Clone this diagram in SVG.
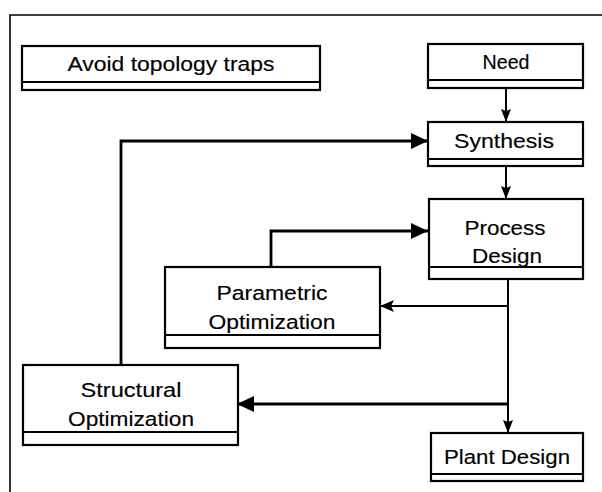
<svg xmlns="http://www.w3.org/2000/svg" width="602" height="492" viewBox="0 0 602 492">
  <defs>
    <marker id="big" markerUnits="userSpaceOnUse" markerWidth="18" markerHeight="18" refX="17" refY="8" orient="auto">
      <path d="M0,0 L17,8 L0,16 z" fill="#000"/>
    </marker>
    <marker id="mid" markerUnits="userSpaceOnUse" markerWidth="16" markerHeight="14" refX="14" refY="6" orient="auto">
      <path d="M0,0 L14,6 L0,12 L3,6 z" fill="#000"/>
    </marker>
    <marker id="small" markerUnits="userSpaceOnUse" markerWidth="14" markerHeight="12" refX="13" refY="5" orient="auto">
      <path d="M0,0 L13,5 L0,10 L2,5 z" fill="#000"/>
    </marker>
  </defs>
  <style>
    rect.box { fill: #fff; stroke: #000; stroke-width: 2.2; }
    line.sep { stroke: #000; stroke-width: 1.8; }
    text { font-family: "Liberation Sans", Arial, sans-serif; font-size: 20.5px; fill: #000; stroke: #000; stroke-width: 0.15; text-anchor: middle; }
    .thick { fill: none; stroke: #000; stroke-width: 2.8; }
    .thin { fill: none; stroke: #000; stroke-width: 2; }
  </style>
  <rect width="602" height="492" fill="#fff"/>
  <path d="M10,492 V15 H602" fill="none" stroke="#000" stroke-width="1.6"/>

  <g id="connectors">
    <path class="thin" d="M506,88 V122" marker-end="url(#small)"/>
    <path class="thin" d="M506,166 V199" marker-end="url(#small)"/>
    <path class="thick" d="M121,365 V141 H428" marker-end="url(#big)"/>
    <path class="thick" d="M271,267 V231 H428" marker-end="url(#big)"/>
    <path class="thin" d="M508,279 V433" marker-end="url(#small)"/>
    <path class="thin" d="M508,306 H380" marker-end="url(#mid)"/>
    <path class="thick" d="M508,404 H237" marker-end="url(#big)"/>
  </g>

  <g id="avoid">
    <rect class="box" x="22" y="46" width="298" height="44"/>
    <line class="sep" x1="22" y1="82" x2="320" y2="82"/>
    <text x="171" y="71" textLength="207" lengthAdjust="spacingAndGlyphs">Avoid topology traps</text>
  </g>
  <g id="need">
    <rect class="box" x="428" y="44" width="155" height="44"/>
    <line class="sep" x1="428" y1="80" x2="583" y2="80"/>
    <text x="506" y="69" textLength="47" lengthAdjust="spacingAndGlyphs">Need</text>
  </g>
  <g id="synthesis">
    <rect class="box" x="428" y="122" width="155" height="44"/>
    <line class="sep" x1="428" y1="159" x2="583" y2="159"/>
    <text x="504" y="148" textLength="100" lengthAdjust="spacingAndGlyphs">Synthesis</text>
  </g>
  <g id="process">
    <rect class="box" x="429" y="199" width="154" height="80"/>
    <line class="sep" x1="429" y1="267" x2="583" y2="267"/>
    <text x="505" y="235" textLength="81" lengthAdjust="spacingAndGlyphs">Process</text>
    <text x="507" y="263" textLength="70" lengthAdjust="spacingAndGlyphs">Design</text>
  </g>
  <g id="parametric">
    <rect class="box" x="165" y="267" width="215" height="81"/>
    <line class="sep" x1="165" y1="335" x2="380" y2="335"/>
    <text x="272" y="300" textLength="111" lengthAdjust="spacingAndGlyphs">Parametric</text>
    <text x="272" y="329" textLength="127" lengthAdjust="spacingAndGlyphs">Optimization</text>
  </g>
  <g id="structural">
    <rect class="box" x="23" y="365" width="215" height="80"/>
    <line class="sep" x1="23" y1="432" x2="238" y2="432"/>
    <text x="131" y="397" textLength="101" lengthAdjust="spacingAndGlyphs">Structural</text>
    <text x="131" y="426" textLength="126" lengthAdjust="spacingAndGlyphs">Optimization</text>
  </g>
  <g id="plant">
    <rect class="box" x="431" y="433" width="152" height="48"/>
    <line class="sep" x1="431" y1="474" x2="583" y2="474"/>
    <text x="507" y="464" textLength="126" lengthAdjust="spacingAndGlyphs">Plant Design</text>
  </g>
</svg>
